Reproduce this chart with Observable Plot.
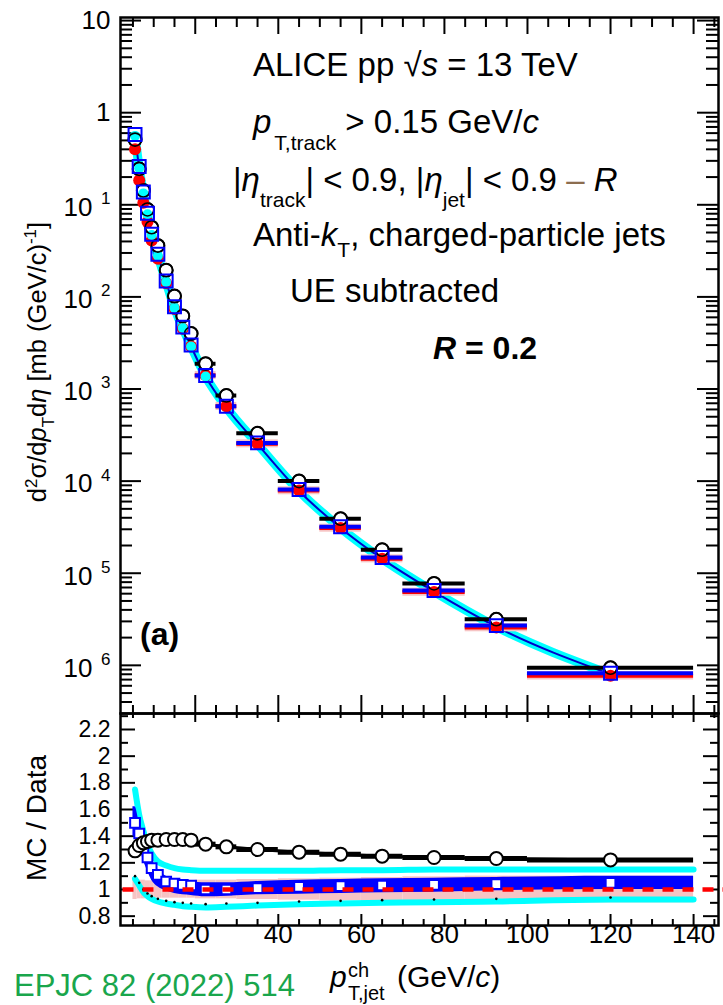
<!DOCTYPE html>
<html><head><meta charset="utf-8">
<script src="https://cdn.jsdelivr.net/npm/d3@7"></script>
<script src="https://cdn.jsdelivr.net/npm/@observablehq/plot@0.6"></script>
<style>
body{margin:0;background:#fff;}
#wrap{position:relative;width:723px;height:1005px;overflow:hidden;font-family:"Liberation Sans",Arial,Helvetica,sans-serif;}
#wrap svg{position:absolute;left:0;overflow:visible;}
</style></head><body><div id="wrap"></div>
<script>
// ---------- data ----------
const binLo    = [5,6,7,8,9,10,12,14,16,18,20,25,30,40,50,60,70,85,100];
const binHi    = [6,7,8,9,10,12,14,16,18,20,25,30,40,50,60,70,85,100,140];
const ptCenter = [5.5,6.5,7.5,8.5,9.5,11,13,15,17,19,22.5,27.5,35,45,55,65,77.5,92.5,120];

// cross sections (mb (GeV/c)^-1)
const dataXsec   = [0.40,0.185,0.105,0.065,0.041,0.026,0.0141,0.0074,0.0045,0.0029,0.00141,6.5e-4,2.55e-4,7.9e-5,3.1e-5,1.44e-5,6.25e-6,2.57e-6,7.7e-7];
const pythiaXsec = [0.51,0.245,0.143,0.089,0.057,0.036,0.0195,0.0102,0.0062,0.0040,0.00188,8.5e-4,3.3e-4,1.0e-4,3.9e-5,1.8e-5,7.75e-6,3.16e-6,9.4e-7];
const powhegXsec = [0.58,0.26,0.138,0.081,0.048,0.029,0.0149,0.0078,0.0047,0.0030,0.0014,6.5e-4,2.6e-4,8.1e-5,3.2e-5,1.48e-5,6.5e-6,2.7e-6,8.2e-7];
const cyanXsec   = [0.56,0.25,0.133,0.079,0.047,0.028,0.0145,0.0076,0.0046,0.0029,0.00137,6.3e-4,2.52e-4,7.8e-5,3.1e-5,1.43e-5,6.3e-6,2.62e-6,8.0e-7];

// ratios MC / Data
const pythiaRatio = [1.29,1.33,1.35,1.36,1.37,1.37,1.375,1.375,1.375,1.37,1.34,1.32,1.30,1.28,1.265,1.25,1.24,1.232,1.222];
const powhegRatio = [1.50,1.42,1.31,1.24,1.16,1.11,1.06,1.045,1.035,1.03,1.0,1.0,1.01,1.02,1.025,1.03,1.035,1.04,1.05];
const powhegLo    = [1.40,1.32,1.22,1.14,1.07,1.02,0.99,0.97,0.96,0.955,0.945,0.95,0.96,0.965,0.97,0.975,0.98,0.99,1.0];
const powhegHi    = [1.62,1.50,1.38,1.29,1.21,1.15,1.10,1.08,1.07,1.06,1.05,1.05,1.06,1.07,1.075,1.08,1.085,1.09,1.10];
const cyanHi      = [1.75,1.56,1.44,1.34,1.27,1.21,1.18,1.16,1.15,1.145,1.14,1.14,1.14,1.14,1.145,1.145,1.15,1.15,1.15];
const cyanLo      = [1.08,1.03,0.98,0.95,0.93,0.91,0.895,0.885,0.875,0.87,0.865,0.87,0.88,0.89,0.895,0.90,0.905,0.91,0.925];
const dotRatio    = [1.10,1.05,1.00,0.97,0.95,0.93,0.915,0.905,0.90,0.895,0.89,0.895,0.90,0.91,0.915,0.92,0.925,0.93,0.94];
const sysLo       = [0.925,0.93,0.93,0.935,0.935,0.935,0.935,0.935,0.935,0.935,0.93,0.93,0.925,0.92,0.915,0.91,0.905,0.90,0.90];
const sysHi       = [1.075,1.07,1.07,1.065,1.065,1.065,1.065,1.065,1.065,1.065,1.07,1.07,1.075,1.08,1.085,1.09,1.095,1.10,1.10];

// ticks
const xMajorTicks = [20,40,60,80,100,120,140];
const xTickLabels = ["20","40","60","80","100","120","140"];
const xMinorTicks = [5,10,15,25,30,35,45,50,55,65,70,75,85,90,95,105,110,115,125,130,135,145];
const yTopMajor   = [10,1,0.1,0.01,1e-3,1e-4,1e-5,1e-6];
const yTopBase    = ["10","1","10","10","10","10","10","10"];
const yTopExp     = ["","","1","2","3","4","5","6"];
const yLowMajor   = [0.8,1,1.2,1.4,1.6,1.8,2,2.2];
const yLowLabels  = ["0.8","1","1.2","1.4","1.6","1.8","2","2.2"];
const yLowMinor   = [0.9,1.1,1.3,1.5,1.7,1.9,2.1,2.3];
const yTopMinor = [];
for (let e = -7; e <= 0; e++) for (let m = 2; m <= 9; m++) { const v = m * Math.pow(10, e); if (v > 3.05e-7 && v < 10.8) yTopMinor.push(v); }

// ---------- tables ----------
const rows = ptCenter.map((x, i) => ({x, lo: binLo[i], hi: binHi[i],
  data: dataXsec[i], pythia: pythiaXsec[i], powheg: powhegXsec[i], cyan: cyanXsec[i],
  rP: pythiaRatio[i], rB: powhegRatio[i], bLo: powhegLo[i], bHi: powhegHi[i],
  cHi: cyanHi[i], cLo: cyanLo[i], dot: dotRatio[i], sLo: sysLo[i], sHi: sysHi[i]}));
const lastI = rows.length - 1;
const bandRows = [{...rows[0], x: binLo[0]}, ...rows, {...rows[lastI], x: binHi[lastI]}];
const cyanRows = [...rows, {...rows[lastI], x: binHi[lastI]}];

const FONT = "Liberation Sans, Arial, Helvetica, sans-serif";
const W = 723, ML = 120, MR = 5;
const FW = W - ML - MR;
const xDomain = [2, 146];
const RED = "#ff0000", BLUE = "#0000ff", CYAN = "#00ffff", PINK = "#f6c4c4";

// ---------- top panel ----------
const TH = 730, TMT = 17, TMB = 17, TFH = TH - TMT - TMB;
const plainIdx = yTopExp.map((e, i) => e === "" ? i : -1).filter(i => i >= 0);
const expIdx = yTopExp.map((e, i) => e !== "" ? i : -1).filter(i => i >= 0);

const topPlot = Plot.plot({
  width: W, height: TH, marginLeft: ML, marginRight: MR, marginTop: TMT, marginBottom: TMB,
  x: {domain: xDomain, axis: null},
  y: {type: "log", domain: [3e-7, 10.8], axis: null},
  style: {background: "transparent", overflow: "visible", fontFamily: FONT},
  marks: [
    Plot.tickY(yTopMajor, {y: d => d, stroke: "black", strokeWidth: 2, insetRight: FW - 21}),
    Plot.tickY(yTopMinor, {y: d => d, stroke: "black", strokeWidth: 2, insetRight: FW - 12}),
    Plot.tickY(yTopMajor, {y: d => d, stroke: "black", strokeWidth: 2, insetLeft: FW - 21}),
    Plot.tickY(yTopMinor, {y: d => d, stroke: "black", strokeWidth: 2, insetLeft: FW - 12}),
    Plot.tickX(xMajorTicks, {x: d => d, stroke: "black", strokeWidth: 2, insetBottom: TFH - 17}),
    Plot.tickX(xMinorTicks, {x: d => d, stroke: "black", strokeWidth: 2, insetBottom: TFH - 10}),
    Plot.tickX(xMajorTicks, {x: d => d, stroke: "black", strokeWidth: 2, insetTop: TFH - 18}),
    Plot.tickX(xMinorTicks, {x: d => d, stroke: "black", strokeWidth: 2, insetTop: TFH - 8}),
    Plot.text(plainIdx, {y: i => yTopMajor[i], text: i => yTopBase[i], frameAnchor: "left", textAnchor: "end", dx: -10, fontSize: 26, fontFamily: FONT, fill: "black"}),
    Plot.text(expIdx, {y: i => yTopMajor[i], text: i => yTopBase[i], frameAnchor: "left", textAnchor: "end", dx: -28, dy: 3, fontSize: 26, fontFamily: FONT, fill: "black"}),
    Plot.text(expIdx, {y: i => yTopMajor[i], text: i => yTopExp[i], frameAnchor: "left", textAnchor: "end", dx: -10, dy: -6, fontSize: 17, fontFamily: FONT, fill: "black"}),
    Plot.line(rows, {x: "x", y: "cyan", stroke: CYAN, strokeWidth: 9, curve: "monotone-x"}),
    Plot.line(rows, {x: "x", y: "cyan", stroke: "#0000cc", strokeWidth: 2, curve: "monotone-x"}),
    Plot.ruleY(rows, {x1: "lo", x2: "hi", y: "pythia", stroke: "black", strokeWidth: 4}),
    Plot.rect(rows, {x1: "lo", x2: "hi", y1: d => d.data * 0.9, y2: d => d.data * 1.1, fill: PINK}),
    Plot.ruleY(rows, {x1: "lo", x2: "hi", y: "data", stroke: RED, strokeWidth: 4}),
    Plot.ruleY(rows, {x1: "lo", x2: "hi", y: "powheg", stroke: BLUE, strokeWidth: 4}),
    Plot.dot(rows, {x: "x", y: "pythia", r: 6.5, fill: "white", stroke: "black", strokeWidth: 2}),
    Plot.dot(rows, {x: "x", y: "data", r: 6, fill: RED}),
    Plot.dot(rows.filter(d => d.x < 25), {x: "x", y: "cyan", r: 5, fill: CYAN}),
    Plot.dot(rows, {x: "x", y: "pythia", r: 6.5, fill: "none", stroke: "black", strokeWidth: 1.6}),
    Plot.dot(rows, {x: "x", y: "powheg", symbol: "square", r: 7.3, fill: "none", stroke: BLUE, strokeWidth: 2}),
    Plot.frame({stroke: "black", strokeWidth: 2.5})
  ]
});
topPlot.style.top = "0px";
document.getElementById("wrap").appendChild(topPlot);

// ---------- bottom panel ----------
const BH = 305, BMT = 13, BMB = 80, BFH = BH - BMT - BMB;
const bottomPlot = Plot.plot({
  width: W, height: BH, marginLeft: ML, marginRight: MR, marginTop: BMT, marginBottom: BMB,
  x: {domain: xDomain, axis: null},
  y: {domain: [0.73, 2.32], axis: null},
  style: {background: "transparent", overflow: "visible", fontFamily: FONT},
  marks: [
    Plot.tickY(yLowMajor, {y: d => d, stroke: "black", strokeWidth: 2, insetRight: FW - 15}),
    Plot.tickY(yLowMinor, {y: d => d, stroke: "black", strokeWidth: 2, insetRight: FW - 8}),
    Plot.tickY(yLowMajor, {y: d => d, stroke: "black", strokeWidth: 2, insetLeft: FW - 15}),
    Plot.tickY(yLowMinor, {y: d => d, stroke: "black", strokeWidth: 2, insetLeft: FW - 8}),
    Plot.tickX(xMajorTicks, {x: d => d, stroke: "black", strokeWidth: 2, insetBottom: BFH - 9}),
    Plot.tickX(xMinorTicks, {x: d => d, stroke: "black", strokeWidth: 2, insetBottom: BFH - 5}),
    Plot.tickX(xMajorTicks, {x: d => d, stroke: "black", strokeWidth: 2, insetTop: BFH - 11}),
    Plot.tickX(xMinorTicks, {x: d => d, stroke: "black", strokeWidth: 2, insetTop: BFH - 6}),
    Plot.text(yLowMajor, {y: d => d, text: (d, i) => yLowLabels[i], frameAnchor: "left", textAnchor: "end", dx: -10, fontSize: 23, fontFamily: FONT, fill: "black"}),
    Plot.text(xMajorTicks, {x: d => d, text: (d, i) => xTickLabels[i], frameAnchor: "bottom", dy: 17, fontSize: 26, fontFamily: FONT, fill: "black"}),
    Plot.rect(rows, {x1: "lo", x2: "hi", y1: "sLo", y2: "sHi", fill: PINK}),
    Plot.line(cyanRows, {x: "x", y: "cHi", stroke: CYAN, strokeWidth: 6, curve: "monotone-x"}),
    Plot.line(cyanRows, {x: "x", y: "cLo", stroke: CYAN, strokeWidth: 6, curve: "monotone-x"}),
    Plot.areaY(bandRows, {x: "x", y1: "bLo", y2: "bHi", fill: BLUE, curve: "monotone-x"}),
    Plot.dot(rows, {x: "x", y: "dot", r: 1.3, fill: "black"}),
    Plot.ruleY(rows, {x1: "lo", x2: "hi", y: "rP", stroke: "black", strokeWidth: 5}),
    Plot.line(rows, {x: "x", y: "rP", stroke: "black", strokeWidth: 3}),
    Plot.dot(rows, {x: "x", y: "rB", symbol: "square", r: 5.5, fill: "white", stroke: BLUE, strokeWidth: 2}),
    Plot.ruleY([1], {y: d => d, x1: 2.6, x2: 148, stroke: RED, strokeWidth: 4.5, strokeDasharray: "11,9"}),
    Plot.dot(rows, {x: "x", y: "rP", r: 6.5, fill: "white", stroke: "black", strokeWidth: 2}),
    Plot.frame({stroke: "black", strokeWidth: 2.5})
  ]
});
bottomPlot.style.top = "700px";
document.getElementById("wrap").appendChild(bottomPlot);

// ---------- annotations ----------
const ov = d3.create("svg").attr("width", W).attr("height", 1005)
  .style("position", "absolute").style("top", "0px").style("left", "0px")
  .style("pointer-events", "none").attr("font-family", FONT);

function rich(x, y, parts, base, extra) {
  const t = ov.append("text").attr("x", x).attr("y", y).attr("font-size", base).attr("fill", "black");
  if (extra) extra(t);
  let shift = 0;
  for (const p of parts) {
    const s = t.append("tspan").text(p.t);
    const want = p.sub ? (p.sh || base * 0.5) : p.sup ? -(p.sh || base * 0.4) : 0;
    if (want !== shift) { s.attr("dy", want - shift); shift = want; }
    if (p.fs) s.attr("font-size", p.fs);
    if (p.i) s.attr("font-style", "italic");
    if (p.b) s.attr("font-weight", "bold");
    if (p.fill) s.attr("fill", p.fill);
    if (p.dx) s.attr("dx", p.dx);
  }
  return t;
}

rich(253, 76, [{t: "ALICE pp  \u221A"}, {t: "s", i: true}, {t: " = 13 TeV"}], 33);
rich(253, 133, [{t: "p", i: true}, {t: "T,track", sub: true, fs: 21, sh: 17, dx: 3}, {t: " > 0.15 GeV/"}, {t: "c", i: true}], 33);
rich(233, 191, [{t: "|"}, {t: "\u03B7", i: true}, {t: "track", sub: true, fs: 21, sh: 16}, {t: "| < 0.9, |"}, {t: "\u03B7", i: true}, {t: "jet", sub: true, fs: 21, sh: 16}, {t: "| < 0.9 "}, {t: "\u2013", fill: "#8c6d4f"}, {t: " "}, {t: "R", i: true}], 33);
rich(253, 246, [{t: "Anti-"}, {t: "k", i: true}, {t: "T", sub: true, fs: 21, sh: 11}, {t: ", charged-particle jets"}], 33);
rich(290, 302, [{t: "UE subtracted"}], 33);
rich(433, 359, [{t: "R", i: true, b: true}, {t: " = 0.2", b: true}], 32);
rich(140, 645, [{t: "(a)", b: true}], 32);

rich(46, 362, [{t: "d"}, {t: "2", sup: true, fs: 17, sh: 9}, {t: "\u03C3/d"}, {t: "p", i: true}, {t: "T", sub: true, fs: 17, sh: 8}, {t: "d"}, {t: "\u03B7", i: true}, {t: "  [mb (GeV/c)"}, {t: "-1", sup: true, fs: 17, sh: 10}, {t: "]"}], 25.5,
  t => t.attr("text-anchor", "middle").attr("transform", "rotate(-90,46,362)"));
rich(46, 818, [{t: "MC / Data"}], 28, t => t.attr("text-anchor", "middle").attr("transform", "rotate(-90,46,818)"));

rich(330, 987, [{t: "p", i: true}], 30);
rich(348, 977, [{t: "ch"}], 20);
rich(348, 1000, [{t: "T,jet"}], 20);
rich(397, 987, [{t: "(GeV/"}, {t: "c", i: true}, {t: ")"}], 30);

rich(14, 996, [{t: "EPJC 82 (2022) 514"}], 31, t => t.attr("fill", "#19a64c"));

document.getElementById("wrap").appendChild(ov.node());
</script>
</body></html>
